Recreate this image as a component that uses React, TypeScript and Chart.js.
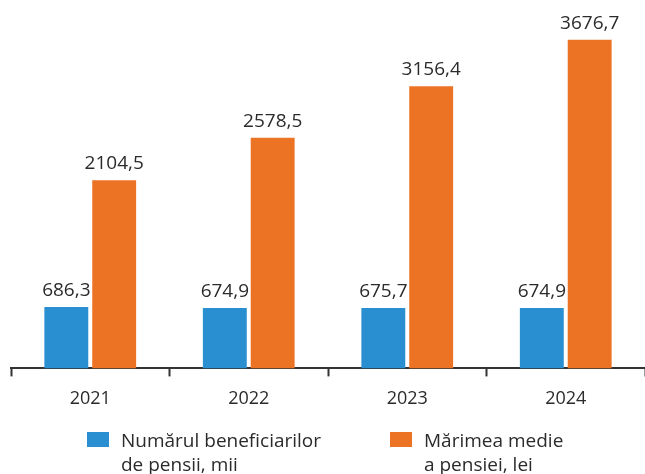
import React, { useEffect, useRef } from "react";
import { Chart, registerables } from "chart.js";

Chart.register(...registerables);

const years = ["2021", "2022", "2023", "2024"];
const beneficiaries = [686.3, 674.9, 675.7, 674.9];
const avgPension = [2104.5, 2578.5, 3156.4, 3676.7];
const legendBeneficiaries = ["Numărul beneficiarilor", "de pensii, mii"];
const legendPension = ["Mărimea medie", "a pensiei, lei"];

const BLUE = "#2a8fd0";
const ORANGE = "#ec7324";
const TEXT = "#2b2b2b";
const FONT = "'Open Sans', sans-serif";

const fmt = (v: number) => v.toFixed(1).replace(".", ",");

const valueLabels = {
  id: "valueLabels",
  afterDatasetsDraw(chart: any) {
    const ctx = chart.ctx;
    ctx.save();
    ctx.font = `19px ${FONT}`;
    ctx.fillStyle = TEXT;
    ctx.textAlign = "center";
    ctx.textBaseline = "alphabetic";
    chart.data.datasets.forEach((ds: any, i: number) => {
      const meta = chart.getDatasetMeta(i);
      meta.data.forEach((bar: any, j: number) => {
        ctx.fillText(fmt(ds.data[j]), bar.x, bar.y - 11);
      });
    });
    ctx.restore();
  },
};

const customLegend = {
  id: "customLegend",
  afterDraw(chart: any) {
    const ctx = chart.ctx;
    ctx.save();
    const items = [
      { x: 87, color: BLUE, lines: legendBeneficiaries },
      { x: 390, color: ORANGE, lines: legendPension },
    ];
    ctx.font = `19px ${FONT}`;
    ctx.fillStyle = TEXT;
    ctx.textAlign = "left";
    ctx.textBaseline = "alphabetic";
    items.forEach((it) => {
      ctx.fillStyle = it.color;
      ctx.fillRect(it.x, 432, 22, 15);
      ctx.fillStyle = TEXT;
      it.lines.forEach((ln, k) => {
        ctx.fillText(ln, it.x + 34, 447 + k * 24);
      });
    });
    ctx.restore();
  },
};

export default function App() {
  const ref = useRef<HTMLCanvasElement | null>(null);
  useEffect(() => {
    if (!ref.current) return;
    const chart = new Chart(ref.current, {
      type: "bar",
      data: {
        labels: years,
        datasets: [
          {
            label: legendBeneficiaries.join(" "),
            data: beneficiaries,
            backgroundColor: BLUE,
            barPercentage: 0.917,
            categoryPercentage: 0.604,
          },
          {
            label: legendPension.join(" "),
            data: avgPension,
            backgroundColor: ORANGE,
            barPercentage: 0.917,
            categoryPercentage: 0.604,
          },
        ],
      },
      options: {
        animation: false,
        responsive: false,
        maintainAspectRatio: false,
        layout: { padding: { left: 11, right: -2, top: 0, bottom: 52 } },
        plugins: {
          legend: { display: false },
          tooltip: { enabled: false },
          title: { display: false },
        },
        scales: {
          x: {
            offset: true,
            border: { display: true, color: "#333", width: 2 },
            grid: {
              display: true,
              offset: true,
              drawOnChartArea: false,
              drawTicks: true,
              tickLength: 8,
              tickWidth: 2,
              tickColor: "#333",
            },
            ticks: {
              color: TEXT,
              font: { family: FONT, size: 18 },
              padding: 12,
            },
          },
          y: {
            display: false,
            min: 0,
            max: 4120,
          },
        },
      },
      plugins: [valueLabels, customLegend],
    });
    return () => chart.destroy();
  }, []);
  return (
    <div style={{ position: "fixed", left: 0, top: 0, width: 645, height: 474, background: "#fff" }}>
      <canvas ref={ref} width={645} height={474} style={{ width: 645, height: 474, display: "block" }} />
    </div>
  );
}
